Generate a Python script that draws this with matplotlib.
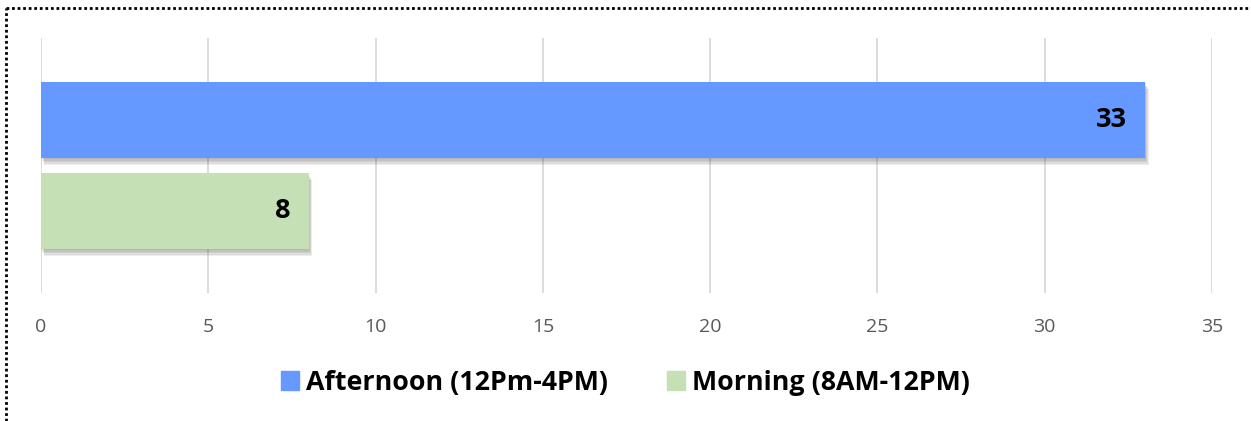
import matplotlib
matplotlib.use('Agg')
import matplotlib.pyplot as plt
import matplotlib.patheffects as pe
from matplotlib.lines import Line2D
from matplotlib.patches import Patch

# shift counts per time slot
labels = ['Morning (8AM-12PM)', 'Afternoon (12Pm-4PM)']
counts = [8, 33]
colors = ['#C5E0B4', '#6699FF']
xticks = [0, 5, 10, 15, 20, 25, 30, 35]

plt.rcParams['font.family'] = ['Open Sans', 'DejaVu Sans']

W, H = 1251, 421
fig = plt.figure(figsize=(W / 100, H / 100), dpi=100)
ax = fig.add_axes([41 / W, 1 - 293 / H, (1212 - 41) / W, (293 - 38) / H])

# soft drop shadow built from a few stacked offsets
shadow = [pe.SimplePatchShadow(offset=(0.5 * i, -1.0 * i), shadow_rgbFace='#404040', alpha=0.09)
          for i in range(1, 6)] + [pe.Normal()]
bars = ax.barh(range(len(counts)), counts, height=0.835, color=colors, zorder=3)
for b in bars:
    b.set_path_effects(shadow)

for b, v in zip(bars, counts):
    ax.text(v - 0.54, b.get_y() + b.get_height() / 2, str(v), ha='right', va='center',
            fontsize=19.5, fontweight='bold', color='black', zorder=4)

ax.set_xlim(0, 35)
ax.set_ylim(-0.9, 1.9)
ax.set_xticks(xticks)
ax.set_yticks([])
ax.grid(axis='x', color='#D9D9D9', linewidth=1.3, zorder=0)
for s in ax.spines.values():
    s.set_visible(False)
ax.tick_params(axis='x', length=0, pad=18, labelsize=14, labelcolor='#595959')

handles = [Patch(color=colors[1]), Patch(color=colors[0])]
fig.legend(handles, [labels[1], labels[0]], loc='center', bbox_to_anchor=(0.5, 1 - 383 / H),
           ncol=2, frameon=False, prop={'size': 19.3, 'weight': 'bold'},
           handlelength=0.67, handleheight=0.7, handletextpad=0.26, columnspacing=2.2)

# dotted frame along the top and left edges
fig.add_artist(Line2D([6 / W, 6 / W], [0, 1 - 8 / H], color='black', linestyle=(0, (1, 1)), linewidth=2))
fig.add_artist(Line2D([6 / W, 1], [1 - 8 / H, 1 - 8 / H], color='black', linestyle=(0, (1, 1)), linewidth=2))

fig.savefig('out.png', dpi=100)
